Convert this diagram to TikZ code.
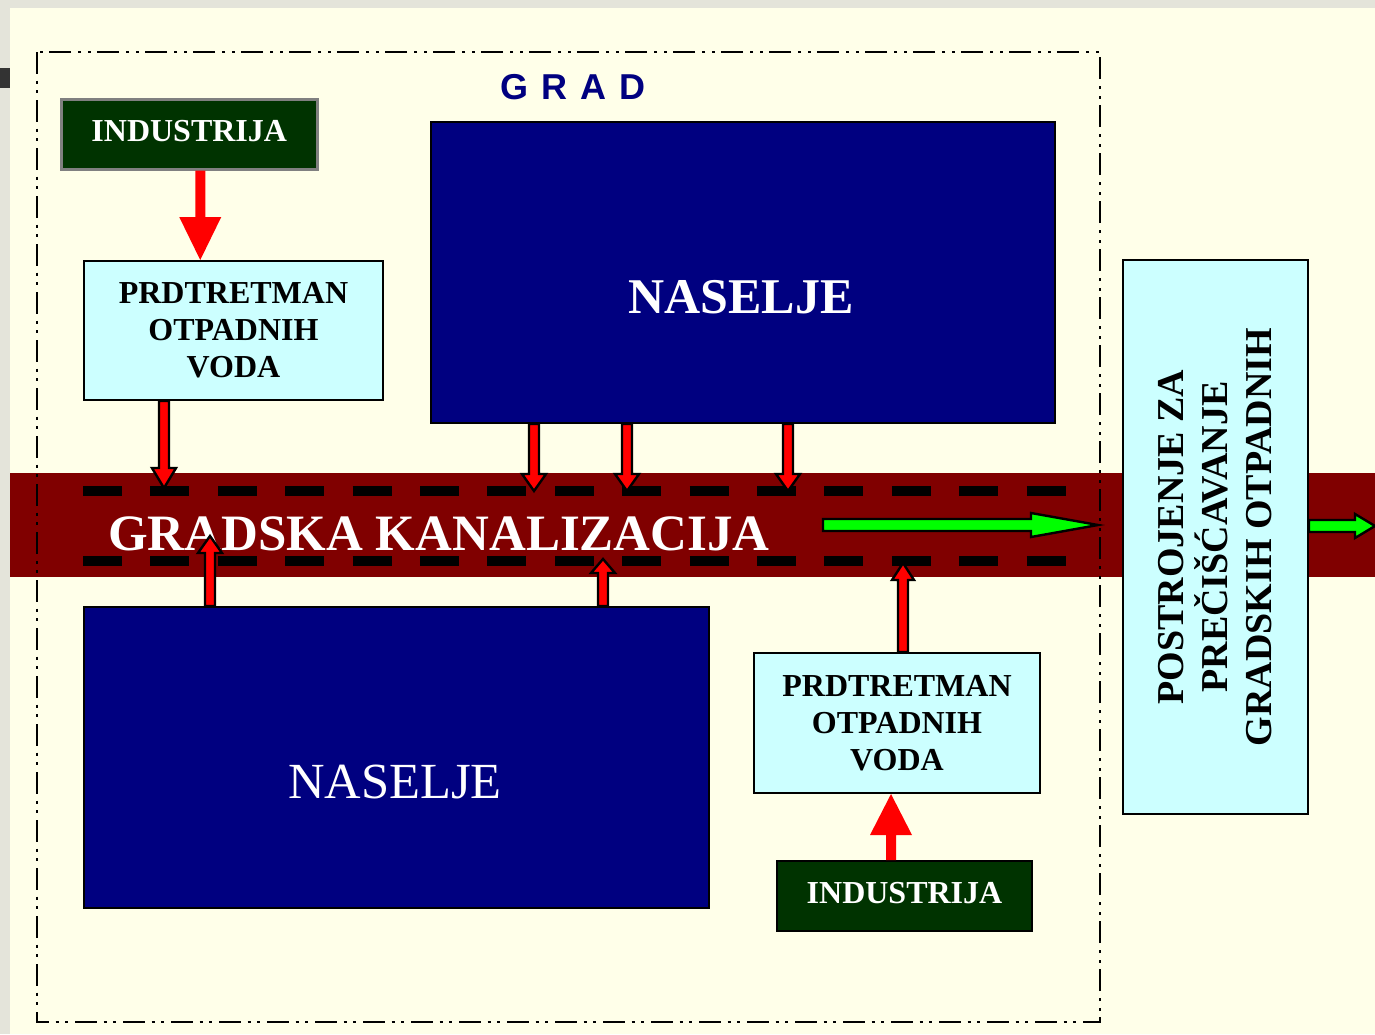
\documentclass[tikz,border=0pt]{standalone}
\usepackage{fontspec}
\setmainfont{Liberation Serif}
\newfontfamily\arialfont{Liberation Sans}
\usetikzlibrary{calc}

\definecolor{cream}{HTML}{FFFFE9}
\definecolor{paper}{HTML}{E4E4DA}
\definecolor{navyfill}{HTML}{000080}
\definecolor{forest}{HTML}{003300}
\definecolor{paleaqua}{HTML}{CCFFFF}
\definecolor{sewer}{HTML}{800000}
\definecolor{flowgreen}{HTML}{00FF00}

% block arrow: #1 style, #2 start, #3 tip, #4 half shaft, #5 half head, #6 head length
\newcommand\blockarr[6]{%
  \path ($(#3)!#6!(#2)$) coordinate (hb);
  \filldraw[#1] ($(#2)!#4!90:(#3)$) -- ($(hb)!#4!90:(#3)$) -- ($(hb)!#5!90:(#3)$)
    -- (#3) -- ($(hb)!#5!-90:(#3)$) -- ($(hb)!#4!-90:(#3)$) -- ($(#2)!#4!-90:(#3)$) -- cycle;
}

\tikzset{
  box/.style={rectangle, anchor=north west, inner sep=0pt, line width=2pt, draw=black},
  industry/.style={box, fill=forest, text=white, text depth=6pt,
    font=\bfseries\fontsize{32pt}{37pt}\selectfont},
  pretreat/.style={box, fill=paleaqua, align=center,
    font=\bfseries\fontsize{32pt}{37pt}\selectfont},
  settlement/.style={box, fill=navyfill},
  frameline/.style={line width=2.2pt, dash pattern=on 22pt off 6.5pt on 3pt off 6.5pt on 3pt off 7pt},
  pipedash/.style={line width=10pt, dash pattern=on 39pt off 28.4pt},
  redflat/.style={fill=red, draw=none},
  redoutlined/.style={fill=red, draw=black, line width=2.4pt, line join=miter},
  greenflow/.style={fill=flowgreen, draw=black, line width=2.4pt, line join=miter},
}

\begin{document}
\begin{tikzpicture}[x=1pt, y=-1pt]
  \useasboundingbox (0,0) rectangle (1375,1034);
  % paper and slide area
  \fill[paper] (0,0) rectangle (1375,1034);
  \fill[black!80] (0,68) rectangle (10,88);
  \fill[cream] (10,8) rectangle (1375,1034);

  % city sewer band
  \node[rectangle, anchor=north west, inner sep=0pt, minimum width=1365pt,
        minimum height=104pt, fill=sewer] (kan) at (10,473) {};
  \draw[pipedash] (83,491) -- (1066,491);
  \draw[pipedash] (83,561) -- (1066,561);
  \node[anchor=base west, inner sep=0pt, text=white,
        font=\bfseries\fontsize{51pt}{55pt}\selectfont] (kantext) at (108,550)
        {GRADSKA KANALIZACIJA};

  % city boundary
  \draw[frameline] (37,52) rectangle (1100,1022);
  \node[anchor=base west, inner sep=0pt, text=navyfill,
        font=\arialfont\bfseries\fontsize{36pt}{40pt}\selectfont] (grad) at (500,99)
        {G\hskip13pt R\hskip13pt A\hskip13pt D};

  % boxes
  \node[industry, draw=black!50, line width=2.5pt, minimum width=256pt, minimum height=70pt]
        (ind1) at (60,98) {INDUSTRIJA};
  \node[pretreat, minimum width=299pt, minimum height=139pt] (pre1) at (83,260)
        {PRDTRETMAN\\OTPADNIH\\VODA};
  \node[settlement, minimum width=624pt, minimum height=301pt] (nas1) at (430,121) {};
  \node[anchor=base, inner sep=0pt, text=white,
        font=\bfseries\fontsize{50pt}{55pt}\selectfont] (nas1text) at (741,313) {NASELJE};
  \node[settlement, minimum width=625pt, minimum height=301pt] (nas2) at (83,606) {};
  \node[anchor=base, inner sep=0pt, text=white,
        font=\fontsize{50.6pt}{55pt}\selectfont] (nas2text) at (395,798) {NASELJE};
  \node[pretreat, minimum width=286pt, minimum height=140pt] (pre2) at (753,652)
        {PRDTRETMAN\\OTPADNIH\\VODA};
  \node[industry, minimum width=255pt, minimum height=70pt] (ind2) at (776,860) {INDUSTRIJA};
  \node[rectangle, draw=black, line width=2pt, fill=paleaqua, inner sep=0pt, rotate=90,
        minimum width=554pt, minimum height=185pt, align=center,
        font=\bfseries\fontsize{38pt}{44pt}\selectfont] (post) at (1215.5,537)
        {POSTROJENJE ZA\\PRE\v{C}I\v{S}\'{C}AVANJE\\GRADSKIH OTPADNIH};

  % arrow end points
  \coordinate (i1s) at ([xshift=11pt]ind1.south);
  \coordinate (i1t) at (i1s |- pre1.north);
  \coordinate (p1s) at ([xshift=81pt]pre1.south west);
  \coordinate (p1t) at (164,488);
  \coordinate (n1a) at ([xshift=104pt]nas1.south west);
  \coordinate (n1at) at (534,491);
  \coordinate (n1b) at ([xshift=197pt]nas1.south west);
  \coordinate (n1bt) at (627,491);
  \coordinate (n1c) at ([xshift=358pt]nas1.south west);
  \coordinate (n1ct) at (788,491);
  \coordinate (n2a) at ([xshift=127pt]nas2.north west);
  \coordinate (n2at) at (210,536);
  \coordinate (n2b) at ([xshift=520pt]nas2.north west);
  \coordinate (n2bt) at (603,559);
  \coordinate (p2s) at ([xshift=150pt]pre2.north west);
  \coordinate (p2t) at (903,563);
  \coordinate (i2s) at ([xshift=115pt]ind2.north west);
  \coordinate (i2t) at (i2s |- pre2.south);
  \coordinate (gs) at (823,525);
  \coordinate (gt) at (1098,525);
  \coordinate (g2s) at (post.south |- 0,526);
  \coordinate (g2t) at (1375,526);

  % flows into the sewer
  \blockarr{redflat}{i1s}{i1t}{5pt}{21pt}{43pt}
  \blockarr{redoutlined}{p1s}{p1t}{5pt}{12pt}{20pt}
  \blockarr{redoutlined}{n1a}{n1at}{5pt}{12pt}{17pt}
  \blockarr{redoutlined}{n1b}{n1bt}{5pt}{12pt}{17pt}
  \blockarr{redoutlined}{n1c}{n1ct}{5pt}{12pt}{17pt}
  \blockarr{redoutlined}{n2a}{n2at}{5pt}{12pt}{17pt}
  \blockarr{redoutlined}{n2b}{n2bt}{5pt}{12pt}{14pt}
  \blockarr{redoutlined}{p2s}{p2t}{5pt}{11pt}{17pt}
  \blockarr{redflat}{i2s}{i2t}{5pt}{21pt}{41pt}

  % flow to the treatment plant and beyond
  \blockarr{greenflow}{gs}{gt}{6pt}{12pt}{67pt}
  \blockarr{greenflow}{g2s}{g2t}{6pt}{12pt}{20pt}
\end{tikzpicture}
\end{document}
